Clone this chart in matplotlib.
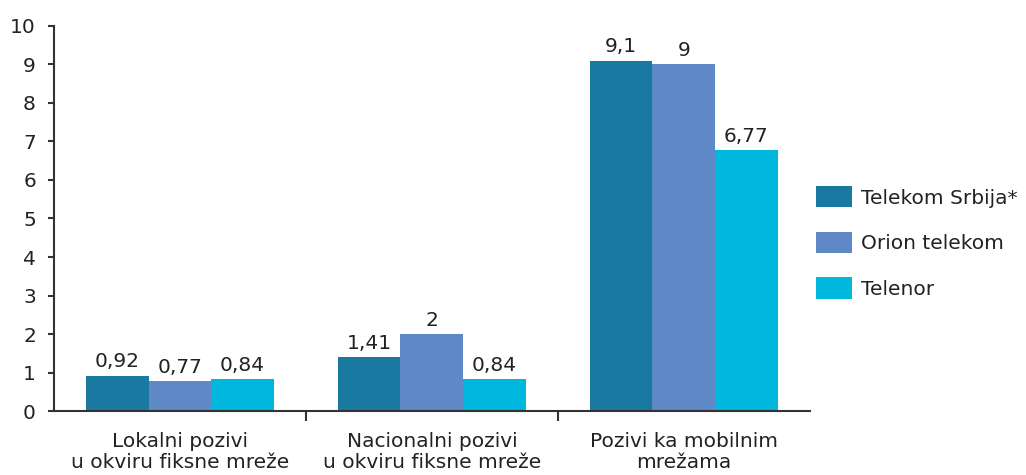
import numpy as np
import matplotlib.pyplot as plt

categories = ["Lokalni pozivi\nu okviru fiksne mreže",
              "Nacionalni pozivi\nu okviru fiksne mreže",
              "Pozivi ka mobilnim\nmrežama"]
series = ["Telekom Srbija*", "Orion telekom", "Telenor"]
telekom = [0.92, 1.41, 9.1]
orion = [0.77, 2, 9]
telenor = [0.84, 0.84, 6.77]
labels = [["0,92", "1,41", "9,1"], ["0,77", "2", "9"], ["0,84", "0,84", "6,77"]]

colors = ["#1a79a1", "#5e88c6", "#00b7dd"]
fs = 14.5

plt.rcParams['font.family'] = ['DejaVu Sans']

fig = plt.figure(figsize=(10.26, 4.75), dpi=100)
ax = fig.add_axes([0.0526, 0.1347, 0.7366, 0.8106])

x = np.arange(len(categories))
w = 0.249
for i, (vals, name) in enumerate(zip([telekom, orion, telenor], series)):
    bars = ax.bar(x + (i - 1) * w, vals, w, color=colors[i], label=name)
    for b, lab in zip(bars, labels[i]):
        ax.annotate(lab, (b.get_x() + b.get_width() / 2, b.get_height()),
                    xytext=(0, 3), textcoords="offset points",
                    ha="center", va="bottom", fontsize=fs, color="#222222")

ax.set_xlim(-0.5, 2.5)
ax.set_ylim(0, 10)
ax.set_yticks(range(0, 11))
for s in ["top", "right"]:
    ax.spines[s].set_visible(False)
for s in ["left", "bottom"]:
    ax.spines[s].set_color("#333333")
    ax.spines[s].set_linewidth(1.5)

ax.set_xticks(x)
ax.set_xticklabels(categories, fontsize=fs, color="#222222", linespacing=1.15)
ax.tick_params(axis="x", length=0, pad=15)
ax.set_xticks([0.5, 1.5], minor=True)
ax.tick_params(axis="x", which="minor", length=7, width=1.5, color="#333333")
ax.tick_params(axis="y", length=4.5, width=1.5, color="#333333",
               labelsize=fs, labelcolor="#222222", pad=8.5)

fig.legend(loc="upper left", bbox_to_anchor=(0.787, 0.625), frameon=False,
           fontsize=fs, handlelength=1.8, handleheight=1.25,
           labelspacing=1.2, handletextpad=0.45, borderaxespad=0,
           labelcolor="#222222")

fig.savefig("out.png", dpi=100)
